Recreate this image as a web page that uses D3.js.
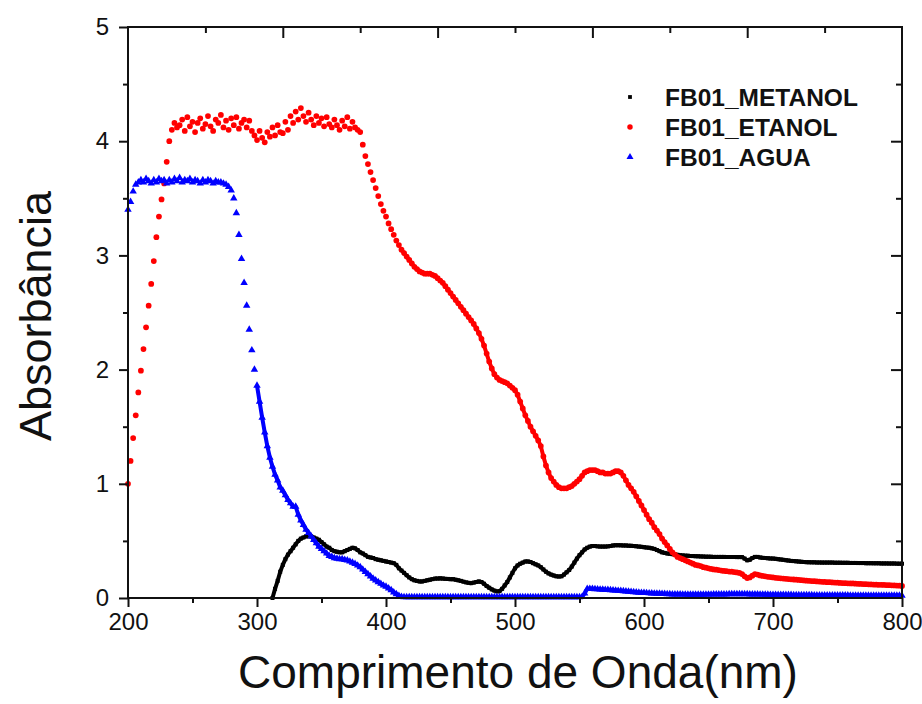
<!DOCTYPE html>
<html><head><meta charset="utf-8">
<script src="https://cdn.jsdelivr.net/npm/d3@7"></script>
<style>body{margin:0;background:#fff}svg{display:block}</style>
</head><body><svg id="c" width="922" height="704"></svg>
<script>
// ---- data ----
const wavelengths = d3.range(200, 801, 2);   // nm, step 2
const metanolWavelengths = d3.range(312, 801, 2);
const seriesNames = ["FB01_METANOL", "FB01_ETANOL", "FB01_AGUA"];
const xTicks = [200, 300, 400, 500, 600, 700, 800];
const xMinorTicks = [250, 350, 450, 550, 650, 750];
const yTicks = [0, 1, 2, 3, 4, 5];
const yMinorTicks = [0.5, 1.5, 2.5, 3.5, 4.5];
const topMajorTicks = [320, 440, 560, 680];
const topMinorTicks = [260, 380, 500, 620, 740];

const metanol = [
0.00,0.08,0.15,0.23,0.29,0.34,0.38,0.41,0.44,0.47,
0.50,0.52,0.53,0.54,0.54,0.54,0.53,0.52,0.51,0.49,
0.47,0.45,0.44,0.42,0.41,0.405,0.40,0.40,0.41,0.42,
0.43,0.44,0.435,0.42,0.40,0.39,0.375,0.36,0.355,0.35,
0.34,0.335,0.33,0.325,0.32,0.315,0.31,0.305,0.29,0.26,
0.24,0.22,0.20,0.18,0.165,0.155,0.15,0.145,0.145,0.15,
0.155,0.16,0.165,0.17,0.17,0.172,0.17,0.168,0.167,0.165,
0.165,0.16,0.155,0.15,0.143,0.137,0.133,0.13,0.135,0.14,
0.145,0.14,0.125,0.105,0.09,0.075,0.065,0.058,0.06,0.08,
0.11,0.14,0.18,0.22,0.26,0.285,0.30,0.31,0.32,0.32,
0.315,0.305,0.295,0.285,0.27,0.25,0.23,0.215,0.205,0.197,
0.19,0.188,0.19,0.205,0.225,0.245,0.275,0.31,0.345,0.375,
0.40,0.425,0.44,0.45,0.455,0.455,0.452,0.45,0.45,0.45,
0.452,0.455,0.46,0.462,0.462,0.461,0.46,0.46,0.458,0.457,
0.455,0.453,0.45,0.448,0.445,0.442,0.44,0.435,0.43,0.42,
0.41,0.40,0.395,0.39,0.387,0.384,0.381,0.378,0.375,0.373,
0.371,0.37,0.368,0.367,0.366,0.365,0.364,0.363,0.362,0.362,
0.361,0.36,0.36,0.36,0.36,0.36,0.359,0.359,0.359,0.359,
0.358,0.358,0.358,0.345,0.33,0.335,0.35,0.36,0.36,0.355,
0.352,0.35,0.348,0.346,0.345,0.343,0.34,0.337,0.334,0.331,
0.328,0.325,0.323,0.321,0.319,0.317,0.315,0.314,0.313,0.312,
0.312,0.311,0.311,0.31,0.31,0.31,0.31,0.31,0.309,0.309,
0.309,0.308,0.308,0.308,0.307,0.307,0.307,0.306,0.306,0.306,
0.305,0.305,0.305,0.304,0.304,0.304,0.303,0.303,0.303,0.302,
0.302,0.302,0.301,0.301,0.300];

const etanol = [
1.00,1.20,1.40,1.60,1.80,1.99,2.18,2.37,2.56,2.75,
2.95,3.16,3.34,3.49,3.63,3.82,4.00,4.10,4.16,4.12,
4.14,4.19,4.09,4.21,4.13,4.17,4.08,4.16,4.20,4.11,
4.15,4.22,4.13,4.09,4.19,4.16,4.23,4.12,4.18,4.10,
4.20,4.14,4.21,4.11,4.16,4.19,4.12,4.18,4.09,4.05,
4.01,4.09,4.03,3.99,4.08,4.04,4.12,4.05,4.14,4.08,
4.07,4.17,4.10,4.22,4.16,4.26,4.19,4.29,4.22,4.17,
4.25,4.19,4.14,4.22,4.16,4.20,4.13,4.21,4.15,4.12,
4.19,4.14,4.10,4.18,4.13,4.21,4.11,4.17,4.12,4.10,
4.08,3.97,3.87,3.80,3.73,3.66,3.59,3.52,3.45,3.39,
3.34,3.28,3.23,3.18,3.13,3.09,3.05,3.02,2.99,2.96,
2.93,2.90,2.88,2.86,2.85,2.84,2.84,2.84,2.83,2.82,
2.80,2.78,2.76,2.73,2.70,2.67,2.64,2.61,2.58,2.55,
2.52,2.49,2.46,2.43,2.40,2.36,2.32,2.27,2.21,2.14,
2.07,2.01,1.96,1.93,1.91,1.90,1.89,1.88,1.86,1.84,
1.82,1.78,1.72,1.66,1.60,1.55,1.50,1.46,1.42,1.38,
1.33,1.24,1.16,1.10,1.05,1.02,0.99,0.97,0.96,0.96,
0.96,0.97,0.98,1.00,1.02,1.04,1.07,1.10,1.11,1.12,
1.12,1.12,1.11,1.10,1.10,1.09,1.09,1.09,1.10,1.11,
1.11,1.10,1.07,1.03,0.99,0.96,0.93,0.89,0.85,0.81,
0.77,0.73,0.69,0.66,0.62,0.59,0.56,0.52,0.49,0.46,
0.43,0.40,0.38,0.36,0.35,0.34,0.33,0.32,0.31,0.30,
0.290,0.285,0.280,0.270,0.265,0.260,0.255,0.250,0.248,0.245,
0.240,0.237,0.235,0.232,0.230,0.227,0.224,0.220,0.210,0.190,
0.175,0.180,0.195,0.210,0.205,0.198,0.193,0.190,0.186,0.183,
0.180,0.177,0.175,0.172,0.170,0.168,0.166,0.164,0.162,0.160,
0.158,0.156,0.154,0.152,0.150,0.148,0.147,0.145,0.144,0.142,
0.141,0.139,0.138,0.136,0.135,0.134,0.132,0.131,0.130,0.129,
0.128,0.127,0.125,0.124,0.123,0.122,0.121,0.120,0.119,0.118,
0.117,0.116,0.115,0.114,0.113,0.112,0.111,0.110,0.109,0.108,
0.106];

const agua = [
3.40,3.47,3.56,3.62,3.64,3.66,3.64,3.67,3.65,3.63,
3.66,3.64,3.67,3.65,3.66,3.63,3.66,3.64,3.67,3.65,
3.68,3.64,3.66,3.65,3.67,3.64,3.66,3.65,3.63,3.66,
3.64,3.66,3.65,3.63,3.65,3.64,3.64,3.63,3.62,3.60,
3.57,3.50,3.37,3.18,2.97,2.76,2.56,2.35,2.17,2.00,
1.86,1.72,1.58,1.45,1.33,1.23,1.15,1.08,1.03,0.97,
0.94,0.90,0.86,0.83,0.80,0.80,0.73,0.68,0.64,0.60,
0.57,0.54,0.51,0.48,0.45,0.43,0.41,0.39,0.37,0.36,
0.350,0.345,0.340,0.340,0.335,0.330,0.320,0.310,0.300,0.285,
0.27,0.25,0.23,0.21,0.19,0.17,0.155,0.14,0.125,0.11,
0.10,0.085,0.07,0.05,0.035,0.02,0.01,0.008,0.008,0.008,
0.008,0.008,0.008,0.008,0.008,0.008,0.008,0.008,0.008,0.008,
0.008,0.008,0.008,0.008,0.008,0.008,0.008,0.008,0.008,0.008,
0.008,0.008,0.008,0.008,0.008,0.008,0.008,0.008,0.008,0.008,
0.008,0.008,0.008,0.008,0.008,0.008,0.008,0.008,0.008,0.008,
0.008,0.008,0.008,0.008,0.008,0.008,0.008,0.008,0.008,0.008,
0.008,0.008,0.008,0.008,0.008,0.008,0.008,0.008,0.008,0.008,
0.008,0.008,0.008,0.008,0.008,0.008,0.01,0.04,0.08,0.08,
0.080,0.078,0.077,0.075,0.074,0.072,0.071,0.070,0.068,0.066,
0.064,0.062,0.060,0.058,0.056,0.054,0.052,0.050,0.048,0.046,
0.045,0.044,0.042,0.041,0.040,0.039,0.038,0.037,0.036,0.035,
0.034,0.033,0.033,0.032,0.032,0.031,0.031,0.030,0.030,0.030,
0.030,0.030,0.030,0.030,0.031,0.031,0.031,0.032,0.032,0.032,
0.033,0.033,0.033,0.034,0.034,0.034,0.035,0.035,0.035,0.034,
0.034,0.033,0.033,0.032,0.032,0.031,0.031,0.030,0.030,0.029,
0.029,0.029,0.028,0.028,0.028,0.027,0.027,0.027,0.026,0.026,
0.026,0.026,0.025,0.025,0.025,0.025,0.024,0.024,0.024,0.024,
0.023,0.023,0.023,0.023,0.023,0.023,0.023,0.023,0.023,0.023,
0.022,0.022,0.022,0.022,0.022,0.022,0.022,0.022,0.022,0.022,
0.021,0.021,0.021,0.021,0.021,0.021,0.021,0.021,0.021,0.021,
0.020];

// ---- chart ----
const svg = d3.select("#c");
const W = 922, H = 704;
const m = {left: 128, right: W - 902, top: 27, bottom: H - 598};
const x = d3.scaleLinear().domain([200, 800]).range([m.left, W - m.right]);
const y = d3.scaleLinear().domain([0, 5]).range([H - m.bottom, m.top]);
const font = "'Liberation Sans', Arial, sans-serif";

const series = [
  {name: seriesNames[0], xs: metanolWavelengths, ys: metanol, color: "#000000", shape: d3.symbolSquare, size: 16, lineFrom: 312, lw: 4},
  {name: seriesNames[1], xs: wavelengths, ys: etanol, color: "#ff0000", shape: d3.symbolCircle, size: 26, lineFrom: 412, lw: 4},
  {name: seriesNames[2], xs: wavelengths, ys: agua, color: "#0000ff", shape: d3.symbolTriangle, size: 24, lineFrom: 300, lw: 4}
];

const plot = svg.append("g");
series.forEach(s => {
  const pts = s.xs.map((w, i) => [w, s.ys[i]]);
  const linePts = pts.filter(p => p[0] >= s.lineFrom);
  plot.append("path")
    .attr("d", d3.line().x(p => x(p[0])).y(p => y(p[1]))(linePts))
    .attr("fill", "none").attr("stroke", s.color).attr("stroke-width", s.lw)
    .attr("stroke-linejoin", "round");
  plot.append("g").selectAll("path").data(pts).join("path")
    .attr("transform", p => `translate(${x(p[0])},${y(p[1])})`)
    .attr("d", d3.symbol().type(s.shape).size(s.size))
    .attr("fill", s.color);
});

// frame
svg.append("rect").attr("x", x(200)).attr("y", y(5))
  .attr("width", x(800) - x(200)).attr("height", y(0) - y(5))
  .attr("fill", "none").attr("stroke", "#111").attr("stroke-width", 2);

function styleAxis(g) {
  g.select(".domain").remove();
  g.selectAll("line").attr("stroke", "#111").attr("stroke-width", 2);
  g.selectAll("text").attr("font-family", font).attr("font-size", 24).attr("fill", "#111");
}
// bottom
svg.append("g").attr("transform", `translate(0,${y(0)})`)
  .call(d3.axisBottom(x).tickValues(xTicks).tickSize(9).tickPadding(6).tickFormat(d3.format("d")))
  .call(styleAxis);
svg.append("g").attr("transform", `translate(0,${y(0)})`)
  .call(d3.axisBottom(x).tickValues(xMinorTicks).tickSize(5).tickFormat(""))
  .call(styleAxis);
// left
svg.append("g").attr("transform", `translate(${x(200)},0)`)
  .call(d3.axisLeft(y).tickValues(yTicks).tickSize(9).tickPadding(10).tickFormat(d3.format("d")))
  .call(styleAxis);
svg.append("g").attr("transform", `translate(${x(200)},0)`)
  .call(d3.axisLeft(y).tickValues(yMinorTicks).tickSize(5).tickFormat(""))
  .call(styleAxis);
// top (inward)
svg.append("g").attr("transform", `translate(0,${y(5)})`)
  .call(d3.axisBottom(x).tickValues(topMajorTicks).tickSize(11).tickFormat(""))
  .call(styleAxis);
svg.append("g").attr("transform", `translate(0,${y(5)})`)
  .call(d3.axisBottom(x).tickValues(topMinorTicks).tickSize(6).tickFormat(""))
  .call(styleAxis);
// right (inward)
svg.append("g").attr("transform", `translate(${x(800)},0)`)
  .call(d3.axisLeft(y).tickValues(yTicks.slice(1, 5)).tickSize(11).tickFormat(""))
  .call(styleAxis);
svg.append("g").attr("transform", `translate(${x(800)},0)`)
  .call(d3.axisLeft(y).tickValues(yMinorTicks).tickSize(6).tickFormat(""))
  .call(styleAxis);

// axis titles
svg.append("text").attr("x", (x(200) + x(800)) / 2 + 3).attr("y", 688)
  .attr("text-anchor", "middle").attr("font-family", font).attr("font-size", 46)
  .attr("fill", "#111").text("Comprimento de Onda(nm)");
svg.append("text").attr("transform", "translate(51,316) rotate(-90)")
  .attr("text-anchor", "middle").attr("font-family", font).attr("font-size", 45)
  .attr("fill", "#111").text("Absorbância");

// legend
const leg = svg.append("g");
series.forEach((s, i) => {
  const cy = 97 + i * 30;
  leg.append("path").attr("transform", `translate(630,${cy})`)
    .attr("d", d3.symbol().type(s.shape).size(s.size * 0.9)).attr("fill", s.color);
  leg.append("text").attr("x", 665).attr("y", cy + 9)
    .attr("font-family", font).attr("font-size", 24.5).attr("font-weight", "bold")
    .attr("fill", "#111").text(s.name);
});
</script>
</body></html>
